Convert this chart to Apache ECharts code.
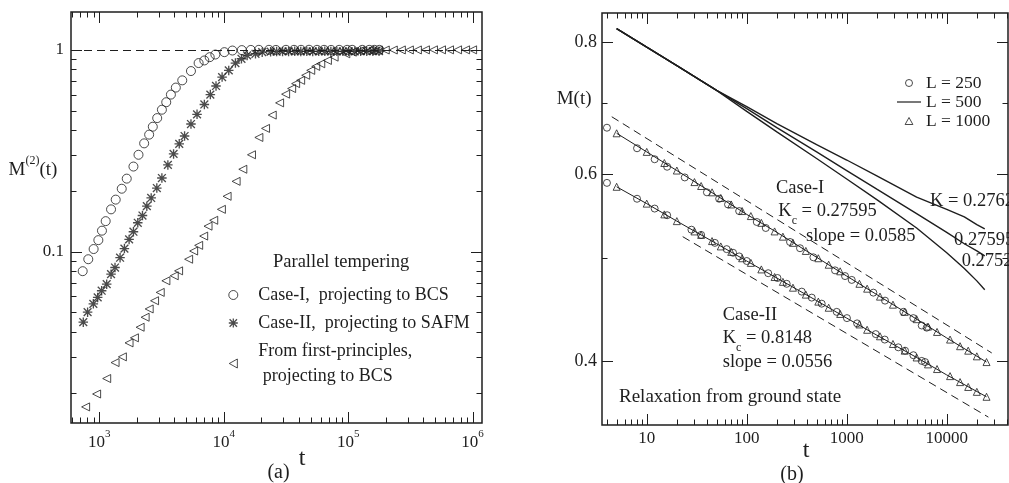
<!DOCTYPE html>
<html>
<head>
<meta charset="utf-8">
<script src="https://cdn.jsdelivr.net/npm/echarts@6/dist/echarts.min.js"></script>
<style>
html, body { margin: 0; padding: 0; background: #fff; }
#chart { width: 1009px; height: 483px; }
</style>
</head>
<body>
<div id="chart"></div>
<script>
// ---- panel (a): M2(t), parallel tempering ----
const caseI_t = [735, 815, 900, 982, 1050, 1125, 1242, 1354, 1514, 1661, 1880, 2064, 2292, 2514, 2690, 2918, 3183, 3450, 3760, 4120, 4640, 5450, 6280, 6980, 7710, 8560, 10120, 11740,
  13970, 16500, 19150, 23070, 26260, 31620, 36700, 41800, 48450, 56200, 64000, 72900, 84600, 98100, 107700, 129700, 147600, 162100, 177900];
const caseI_m = [0.080, 0.0917, 0.103, 0.114, 0.127, 0.1416, 0.162, 0.181, 0.205, 0.230, 0.264, 0.302, 0.344, 0.380, 0.416, 0.459, 0.505, 0.550, 0.600, 0.650, 0.706, 0.785, 0.860, 0.886, 0.920, 0.948, 0.974, 0.992,
  0.997, 0.999, 1.0, 1.0, 0.999, 1.0, 1.0, 1.0, 1.001, 1.0, 1.0, 0.999, 1.0, 1.0, 1.0, 1.0, 1.0, 1.0, 1.0];

const caseII_t = [743, 805, 895, 970, 1044, 1146, 1242, 1337, 1468, 1591, 1735, 1880, 2037, 2222, 2409, 2611, 2898, 3183, 3556, 3951, 4388, 4844, 5452, 6099, 6985, 7803, 8666, 9700, 10970, 12410, 13880, 15410, 17990, 20370,
  23800, 26600, 29700, 33200, 37200, 41600, 46500, 51900, 58000, 64900, 72600, 81100, 90700, 101000, 113000, 126000, 141000, 158000, 177000];
const caseII_m = [0.0447, 0.0501, 0.0551, 0.0593, 0.064, 0.069, 0.0773, 0.0834, 0.0933, 0.1035, 0.115, 0.1255, 0.139, 0.151, 0.168, 0.1845, 0.2066, 0.2316, 0.269, 0.305, 0.342, 0.374, 0.429, 0.479, 0.536, 0.600, 0.662, 0.733, 0.791, 0.860, 0.903, 0.938, 0.956, 0.974,
  0.979, 0.981, 0.982, 0.982, 0.983, 0.982, 0.983, 0.982, 0.983, 0.983, 0.982, 0.983, 0.983, 0.984, 0.983, 0.984, 0.984, 0.985, 0.985];

const fp_t = [776, 951, 1146, 1338, 1532, 1733, 1915, 2128, 2334, 2516, 2779, 3086, 3427, 4000, 4335, 5220, 5728, 6286, 6897, 7474, 8306, 9573, 10640, 12570, 14230, 16710, 19150, 21670, 24530, 28110, 31420, 35130, 37820, 41500, 45570, 50000, 54860, 60200, 68100, 77100, 95700, 108000, 126000, 150000, 175000,
  198700, 230500, 267500, 310400, 360000, 417800, 484600, 562300, 652400, 756900, 878100, 1000000];
const fp_m = [0.0170, 0.0197, 0.0235, 0.0282, 0.0301, 0.0353, 0.0374, 0.0422, 0.0473, 0.052, 0.0571, 0.0628, 0.0717, 0.0759, 0.0803, 0.0917, 0.1007, 0.1074, 0.1194, 0.1337, 0.143, 0.162, 0.188, 0.223, 0.256, 0.302, 0.368, 0.408, 0.475, 0.546, 0.603, 0.643, 0.680, 0.706, 0.748, 0.791, 0.828, 0.853, 0.886, 0.920, 0.956, 0.974, 0.993, 0.995, 0.997,
  0.998, 0.998, 0.999, 0.999, 0.999, 1.0, 1.0, 1.0, 1.0, 1.0, 1.0, 1.0];

const a_xMajor = [1e3, 1e4, 1e5, 1e6];
const a_xMinor = [600, 700, 800, 900, 2e3, 3e3, 4e3, 5e3, 6e3, 7e3, 8e3, 9e3, 2e4, 3e4, 4e4, 5e4, 6e4, 7e4, 8e4, 9e4, 2e5, 3e5, 4e5, 5e5, 6e5, 7e5, 8e5, 9e5];
const a_yMajor = [0.1, 1];
const a_yMinor = [0.02, 0.03, 0.04, 0.05, 0.06, 0.07, 0.08, 0.09, 0.2, 0.3, 0.4, 0.5, 0.6, 0.7, 0.8, 0.9];

// ---- panel (b): M(t), relaxation from ground state ----
const b1_circ_t = [4, 8, 12, 16, 24, 40, 53, 65, 84, 126, 155, 271, 341, 464, 764, 962, 1122, 1847, 2415, 3684, 4636, 5623, 6310];
const b1_circ_m = [0.664, 0.635, 0.620, 0.610, 0.596, 0.577, 0.569, 0.562, 0.554, 0.541, 0.534, 0.518, 0.511, 0.501, 0.487, 0.481, 0.477, 0.464, 0.456, 0.445, 0.439, 0.432, 0.430];
const b2_circ_t = [4, 8, 12, 16, 28, 35, 48, 63, 73, 84, 100, 164, 203, 251, 355, 447, 562, 794, 1005, 1270, 1950, 2400, 3280, 3830, 4640, 5620, 6070];
const b2_circ_m = [0.589, 0.569, 0.557, 0.549, 0.532, 0.526, 0.517, 0.510, 0.506, 0.502, 0.497, 0.484, 0.479, 0.473, 0.465, 0.459, 0.453, 0.445, 0.439, 0.434, 0.424, 0.419, 0.412, 0.409, 0.405, 0.400, 0.399];

const b_tri_t = [5, 10, 15, 20, 30, 35, 45, 55, 70, 90, 110, 140, 190, 230, 290, 390, 520, 660, 860, 1340, 1600, 2150, 2900, 3800, 5000, 6500, 8000, 10800, 13600, 16400, 20000, 25000];
const b1_tri_m = [0.656, 0.630, 0.615, 0.605, 0.590, 0.585, 0.577, 0.570, 0.562, 0.554, 0.548, 0.540, 0.530, 0.524, 0.517, 0.508, 0.500, 0.493, 0.486, 0.473, 0.468, 0.460, 0.452, 0.445, 0.438, 0.431, 0.426, 0.419, 0.413, 0.409, 0.404, 0.399];
const b2_tri_m = [0.584, 0.563, 0.550, 0.542, 0.530, 0.526, 0.519, 0.513, 0.507, 0.500, 0.495, 0.488, 0.480, 0.475, 0.469, 0.462, 0.455, 0.449, 0.443, 0.433, 0.428, 0.422, 0.415, 0.409, 0.403, 0.397, 0.393, 0.387, 0.382, 0.378, 0.374, 0.370];

const b_line_t = [5, 10, 20, 50, 100, 200, 500, 1000, 2000, 5000, 10000, 25000];
const b1_line_m = [0.656, 0.630, 0.605, 0.573, 0.550, 0.529, 0.501, 0.481, 0.462, 0.438, 0.4205, 0.399];
const b2_line_m = [0.584, 0.563, 0.542, 0.516, 0.497, 0.479, 0.456, 0.439, 0.423, 0.403, 0.388, 0.370];

// off-critical runs (K = 0.2762, 0.27595, 0.2752)
const k_t = [5, 10, 20, 50, 100, 200, 500, 1000, 2000, 5000, 10000, 15000, 20000, 24000];
const k2762_m = [0.8235, 0.791, 0.760, 0.720, 0.695, 0.670, 0.640, 0.619, 0.598, 0.571, 0.556, 0.547, 0.538, 0.533];
const k27595_m = [0.8235, 0.791, 0.760, 0.720, 0.692, 0.664, 0.630, 0.605, 0.581, 0.551, 0.529, 0.516, 0.508, 0.5025];
const k2752_m = [0.8235, 0.791, 0.760, 0.720, 0.688, 0.658, 0.621, 0.594, 0.568, 0.534, 0.506, 0.489, 0.476, 0.467];

// power-law guide lines
const fit1_t = [4.47, 28200];
const fit1_m = [0.680, 0.407];
const fit2_t = [22.9, 26100];
const fit2_m = [0.524, 0.354];

const b_xMajor = [10, 100, 1000, 10000];
const b_xMinor = [4, 5, 6, 7, 8, 9, 20, 30, 40, 50, 60, 70, 80, 90, 200, 300, 400, 500, 600, 700, 800, 900,
  2000, 3000, 4000, 5000, 6000, 7000, 8000, 9000, 20000, 30000, 40000];
const b_yMajor = [0.4, 0.6, 0.8];
const b_yMinor = [0.5, 0.7];

// axis ranges
const a_x = [592, 1.19e6], a_y = [0.01415, 1.54];
const b_x = [3.57, 41000], b_y = [0.348, 0.852];

const INK = '#1e1e1e';
const FONT = 'Liberation Serif';
const STAR = 'path://M4.3,0H5.7V10H4.3Z M0,4.3H10V5.7H0Z M1.4,0.4L9.6,8.6L8.6,9.6L0.4,1.4Z M8.6,0.4L9.6,1.4L1.4,9.6L0.4,8.6Z';
const TRI_LEFT = 'path://M0,5L9,0L9,10Z';
const TRI_UP = 'path://M5,0L10,9L0,9Z';
const LINE_ICON = 'path://M0,0H24V1.2H0Z';
const HOLLOW = { color: 'rgba(0,0,0,0)', borderColor: INK, borderWidth: 1 };

function zip(ts, ms) {
  return ts.map((t, i) => [t, ms[i]]);
}

function logAxis(grid, pos, range, labels, lab) {
  return {
    type: 'log', logBase: 10, gridIndex: grid, position: pos, min: range[0], max: range[1],
    axisLine: { show: false },
    axisTick: { show: false },
    axisLabel: Object.assign({ show: true, customValues: labels, color: INK, fontFamily: FONT }, lab),
    splitLine: { show: false },
    minorTick: { show: false }
  };
}

const xAxes = [
  logAxis(0, 'bottom', a_x, a_xMajor, {
    margin: 5.5,
    formatter: v => '{n|10}{e|' + Math.round(Math.log10(v)) + '}',
    rich: {
      n: { fontSize: 17, fontFamily: FONT, color: INK, lineHeight: 28 },
      e: { fontSize: 11, fontFamily: FONT, color: INK, lineHeight: 11, verticalAlign: 'top' }
    }
  }),
  logAxis(1, 'bottom', b_x, b_xMajor, {
    margin: 5, fontSize: 17, lineHeight: 18,
    formatter: v => String(Math.round(v))
  })
];
const yAxes = [
  logAxis(0, 'left', a_y, a_yMajor, {
    margin: 7, fontSize: 17,
    formatter: v => String(parseFloat(v.toPrecision(4)))
  }),
  logAxis(1, 'left', b_y, b_yMajor, {
    margin: 5, fontSize: 18,
    formatter: v => String(parseFloat(v.toPrecision(4)))
  })
];

// inward ticks on all four sides, placed through the axis scale
function ticks(idx, dim, values, ref, len) {
  return {
    type: 'custom', xAxisIndex: idx, yAxisIndex: idx, silent: true, clip: false, z: 5,
    data: values.map(v => dim === 'x' ? [v, ref] : [ref, v]),
    renderItem: function (params, api) {
      const cs = params.coordSys;
      const p = api.coord([api.value(0), api.value(1)]);
      const st = { stroke: INK, lineWidth: 1 };
      if (dim === 'x') {
        const x = Math.round(p[0]) + 0.5;
        const b = cs.y + cs.height;
        return { type: 'group', children: [
          { type: 'line', shape: { x1: x, y1: b, x2: x, y2: b - len }, style: st },
          { type: 'line', shape: { x1: x, y1: cs.y, x2: x, y2: cs.y + len }, style: st }
        ] };
      }
      const y = Math.round(p[1]) + 0.5;
      const r = cs.x + cs.width;
      return { type: 'group', children: [
        { type: 'line', shape: { x1: cs.x, y1: y, x2: cs.x + len, y2: y }, style: st },
        { type: 'line', shape: { x1: r, y1: y, x2: r - len, y2: y }, style: st }
      ] };
    }
  };
}

function scatter(name, idx, data, symbol, size, style) {
  return { name: name, type: 'scatter', xAxisIndex: idx, yAxisIndex: idx, data: data,
    symbol: symbol, symbolSize: size, itemStyle: style, z: 3, silent: true };
}
function line(name, idx, data, width, dashed) {
  return { name: name, type: 'line', xAxisIndex: idx, yAxisIndex: idx, data: data,
    showSymbol: false, symbol: 'none', silent: true, z: 2,
    itemStyle: { color: INK },
    lineStyle: { color: INK, width: width, type: dashed ? [8, 5] : 'solid' } };
}

const series = [
  // panel (a)
  Object.assign(scatter('Case-I,  projecting to BCS', 0, zip(caseI_t, caseI_m), 'circle', 9, HOLLOW), {
    markLine: {
      silent: true, symbol: ['none', 'none'], label: { show: false },
      lineStyle: { color: INK, width: 1, type: [8, 5] },
      data: [{ yAxis: 1 }]
    }
  }),
  scatter('Case-II,  projecting to SAFM', 0, zip(caseII_t, caseII_m), STAR, 9.5, { color: INK }),
  scatter('From first-principles,\n projecting to BCS', 0, zip(fp_t, fp_m), TRI_LEFT, 8, HOLLOW),
  ticks(0, 'x', a_xMajor, 0.5, 11),
  ticks(0, 'x', a_xMinor, 0.5, 5.5),
  ticks(0, 'y', a_yMajor, 1000, 11),
  ticks(0, 'y', a_yMinor, 1000, 5.5),
  // panel (b)
  line('L = 500', 1, zip(k_t, k2762_m), 1.4),
  line('L = 500', 1, zip(k_t, k27595_m), 1.4),
  line('L = 500', 1, zip(k_t, k2752_m), 1.4),
  line('L = 500', 1, zip(b_line_t, b1_line_m), 1),
  line('L = 500', 1, zip(b_line_t, b2_line_m), 1),
  line('', 1, zip(fit1_t, fit1_m), 1, true),
  line('', 1, zip(fit2_t, fit2_m), 1, true),
  scatter('L = 250', 1, zip(b1_circ_t, b1_circ_m), 'circle', 7, HOLLOW),
  scatter('L = 250', 1, zip(b2_circ_t, b2_circ_m), 'circle', 7, HOLLOW),
  scatter('L = 1000', 1, zip(b_tri_t, b1_tri_m), TRI_UP, 7, HOLLOW),
  scatter('L = 1000', 1, zip(b_tri_t, b2_tri_m), TRI_UP, 7, HOLLOW),
  ticks(1, 'x', b_xMajor, 0.5, 11),
  ticks(1, 'x', b_xMinor, 0.5, 5.5),
  ticks(1, 'y', b_yMajor, 100, 11),
  ticks(1, 'y', b_yMinor, 100, 5.5)
];

function txt(x, y, text, size, extra) {
  return { type: 'text', x: x, y: y, silent: true,
    style: Object.assign({ text: text, fontFamily: FONT, fontSize: size, fill: INK, align: 'left', verticalAlign: 'middle' }, extra || {}) };
}
function sub(x, y, main, low, rest, size) {
  return txt(x, y, '{k|' + main + '}{c|' + low + '}{k|' + rest + '}', size, {
    rich: {
      k: { fontSize: size, fontFamily: FONT, fill: INK, lineHeight: 32 },
      c: { fontSize: 12, fontFamily: FONT, fill: INK, lineHeight: 12, verticalAlign: 'bottom' }
    }
  });
}

const graphics = [
  txt(8.5, 170.5, '{m|M}{s|(2)}{m|(t)}', 19, {
    rich: {
      m: { fontSize: 19, fontFamily: FONT, fill: INK, lineHeight: 31 },
      s: { fontSize: 12, fontFamily: FONT, fill: INK, lineHeight: 12, verticalAlign: 'top' }
    }
  }),
  txt(302, 459, 't', 24, { align: 'center' }),
  txt(278.5, 473, '(a)', 20, { align: 'center' }),
  txt(273, 262, 'Parallel tempering', 18.5),
  txt(556.7, 99.5, 'M(t)', 19),
  txt(806, 451, 't', 24, { align: 'center' }),
  txt(792, 475, '(b)', 20, { align: 'center' }),
  txt(776, 188, 'Case-I', 18.5),
  sub(778.3, 211, 'K', 'c', ' = 0.27595', 18.5),
  txt(806, 236, 'slope = 0.0585', 18.5),
  txt(930, 201, 'K = 0.2762', 18.5),
  txt(954, 240, '0.27595', 18.5),
  txt(961.7, 261, '0.2752', 18.5),
  txt(722.7, 315, 'Case-II', 18.5),
  sub(722.7, 338, 'K', 'c', ' = 0.8148', 18.5),
  txt(722.7, 362, 'slope = 0.0556', 18.5),
  txt(619, 397, 'Relaxation from ground state', 19)
];

const chart = echarts.init(document.getElementById('chart'), null, { renderer: 'canvas' });
chart.setOption({
  animation: false,
  backgroundColor: '#fff',
  grid: [
    { left: 71, top: 12, width: 411, height: 411, show: true, borderColor: INK, borderWidth: 1.5, backgroundColor: 'rgba(0,0,0,0)' },
    { left: 602, top: 13, width: 406, height: 412, show: true, borderColor: INK, borderWidth: 1.5, backgroundColor: 'rgba(0,0,0,0)' }
  ],
  xAxis: xAxes,
  yAxis: yAxes,
  legend: [
    {
      left: 228.3, top: 282.5, orient: 'vertical', padding: 0, itemGap: 3,
      itemWidth: 40, itemHeight: 9, selectedMode: false,
      itemStyle: { borderWidth: 1 },
      textStyle: { fontFamily: FONT, fontSize: 18, color: INK, lineHeight: 25 },
      data: [
        { name: 'Case-I,  projecting to BCS', icon: 'circle' },
        { name: 'Case-II,  projecting to SAFM', icon: STAR, itemStyle: { borderWidth: 0 } },
        { name: 'From first-principles,\n projecting to BCS', icon: TRI_LEFT }
      ]
    },
    {
      left: 897, top: 73.5, orient: 'vertical', padding: 0, itemGap: 0,
      itemWidth: 24, itemHeight: 7, selectedMode: false,
      itemStyle: { borderWidth: 1 },
      textStyle: { fontFamily: FONT, fontSize: 17.5, color: INK, lineHeight: 19 },
      data: [
        { name: 'L = 250', icon: 'circle' },
        { name: 'L = 500', icon: LINE_ICON, itemStyle: { borderWidth: 0 } },
        { name: 'L = 1000', icon: TRI_UP }
      ]
    }
  ],
  graphic: graphics,
  series: series
});
</script>
</body>
</html>
